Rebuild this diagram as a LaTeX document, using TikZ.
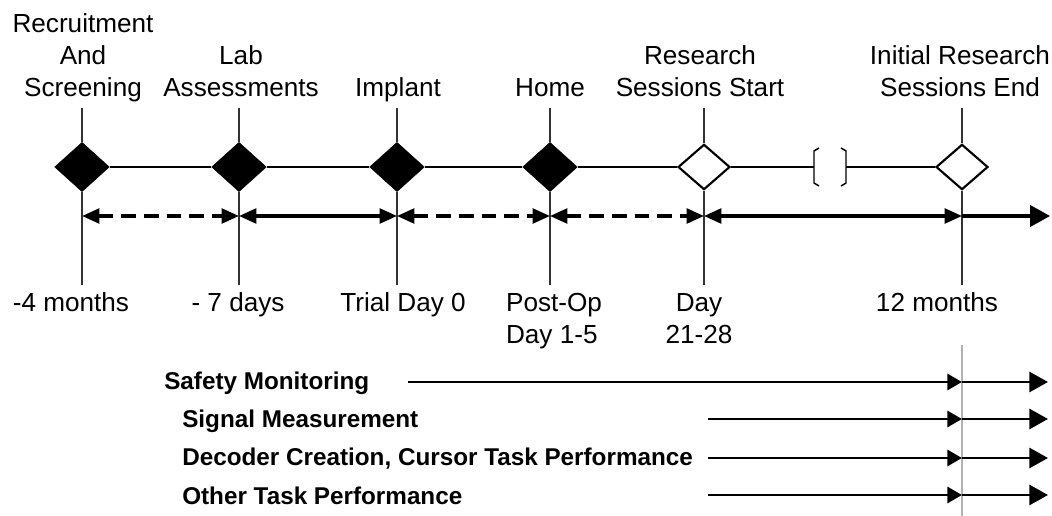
\documentclass[tikz,border=0pt]{standalone}
\usepackage{fontspec}
\setmainfont{Liberation Sans}
\usetikzlibrary{shapes.geometric,arrows.meta}
\begin{document}
\begin{tikzpicture}[x=0.75pt,y=-0.75pt,
  lbl/.style={font=\fontsize{19.6}{24}\selectfont, align=center, inner sep=0pt, text depth=0pt, anchor=south},
  blbl/.style={font=\fontsize{18.2}{22}\selectfont\bfseries, inner sep=0pt, anchor=base west},
  fdia/.style={diamond, fill=black, draw=black, inner sep=0pt, minimum width=41pt, minimum height=37pt},
  hdia/.style={diamond, fill=white, draw=black, line width=1.6pt, inner sep=0pt, minimum width=39pt, minimum height=34pt},
  tickline/.style={draw=black!80, line width=1.3pt},
  axis/.style={draw=black, line width=1.1pt},
  span/.style={draw=black, line width=2.5pt, {Triangle[length=13pt,width=11pt]}-{Triangle[length=13pt,width=11pt]}},
  dashspan/.style={span, dash pattern=on 11pt off 6pt},
  endarrow/.style={draw=black, line width=2.5pt, -{Triangle[length=15pt,width=16pt]}},
  rowarrow/.style={draw=black, line width=2.2pt, -{Triangle[length=11pt,width=12pt]}},
  rowend/.style={draw=black, line width=2.2pt, -{Triangle[length=14pt,width=15pt]}}
]
\useasboundingbox (0,0) rectangle (1052,516);

% diamonds
\node[fdia] (d1) at (82,167) {};
\node[fdia] (d2) at (239,167) {};
\node[fdia] (d3) at (397,167) {};
\node[fdia] (d4) at (550,167) {};
\node[hdia] (d5) at (704,167) {};
\node[hdia] (d6) at (962,167) {};

% tick ends
\coordinate (tt1) at (82,108);  \coordinate (tb1) at (82,285);
\coordinate (tt2) at (239,108); \coordinate (tb2) at (239,285);
\coordinate (tt3) at (397,108); \coordinate (tb3) at (397,285);
\coordinate (tt4) at (550,108); \coordinate (tb4) at (550,285);
\coordinate (tt5) at (704,108); \coordinate (tb5) at (704,285);
\coordinate (tt6) at (962,108); \coordinate (tb6) at (962,285);
\foreach \i in {1,...,6}{
  \draw[tickline] (tt\i) -- (d\i.north);
  \draw[tickline] (d\i.south) -- (tb\i);
}

% axis with break
\coordinate (bkL) at (814,167);
\coordinate (bkR) at (846,167);
\draw[axis] (d1) -- (d2);
\draw[axis] (d2) -- (d3);
\draw[axis] (d3) -- (d4);
\draw[axis] (d4) -- (d5);
\draw[axis] (d5) -- (bkL);
\draw[axis] (bkR) -- (d6);
\draw[axis] (819,148) -- (814,151) -- (814,183) -- (819,186);
\draw[axis] (841,148) -- (846,151) -- (846,183) -- (841,186);

% spans row
\coordinate (a1) at (82,216);
\coordinate (a2) at (239,216);
\coordinate (a3) at (397,216);
\coordinate (a4) at (550,216);
\coordinate (a5) at (704,216);
\coordinate (a6) at (962,216);
\coordinate (a7) at (1050,216);
\draw[dashspan] (a1) -- (a2);
\draw[span] (a2) -- (a3);
\draw[dashspan] (a3) -- (a4);
\draw[dashspan] (a4) -- (a5);
\draw[span] (a5) -- (a6);
\draw[endarrow] (a6) -- (a7);

% top labels
\node[lbl] (l1) at (83,97) {Recruitment\\And\\Screening};
\node[lbl] (l2) at (241,97) {Lab\\Assessments};
\node[lbl] (l3) at (398,97) {Implant};
\node[lbl] (l4) at (550,97) {Home};
\node[lbl] (l5) at (700,97) {Research\\Sessions Start};
\node[lbl] (l6) at (960,97) {Initial Research\\Sessions End};

% bottom labels
\node[lbl] (b1) at (71,312) {-4 months};
\node[lbl] (b2) at (238,312) {- 7 days};
\node[lbl] (b3) at (403,312) {Trial Day 0};
\node[lbl, align=left] (b4) at (554,344) {Post-Op\\Day 1-5};
\node[lbl] (b5) at (699,344) {Day\\21-28};
\node[lbl] (b6) at (937,312) {12 months};

% gray guide
\coordinate (g1) at (962,345);
\coordinate (g2) at (962,516);
\draw[gray!60, line width=0.8pt] (g1) -- (g2);

% activity rows
\node[blbl] (r1) at (164,389) {Safety Monitoring};
\node[blbl] (r2) at (182,427) {Signal Measurement};
\node[blbl] (r3) at (182,465) {Decoder Creation, Cursor Task Performance};
\node[blbl] (r4) at (182,504) {Other Task Performance};

\coordinate (s1) at (408,382); \coordinate (m1) at (962,382); \coordinate (e1) at (1048,382);
\coordinate (s2) at (708,419); \coordinate (m2) at (962,419); \coordinate (e2) at (1048,419);
\coordinate (s3) at (708,458); \coordinate (m3) at (962,458); \coordinate (e3) at (1048,458);
\coordinate (s4) at (708,495); \coordinate (m4) at (962,495); \coordinate (e4) at (1048,495);
\foreach \i in {1,...,4}{
  \draw[rowarrow] (s\i) -- (m\i);
  \draw[rowend] (m\i) -- (e\i);
}
\end{tikzpicture}
\end{document}
